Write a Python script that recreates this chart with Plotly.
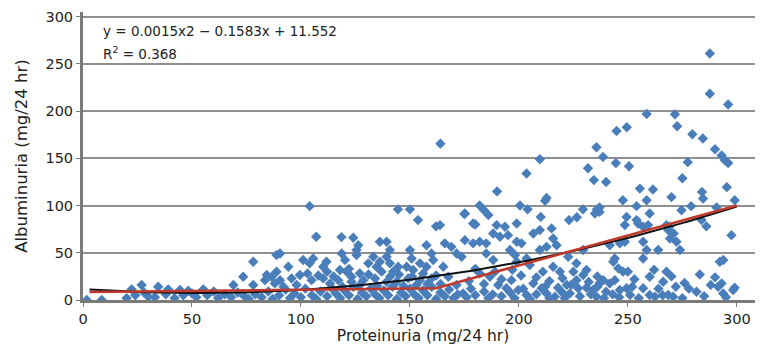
import numpy as np
import plotly.graph_objects as go

# ---- scatter data (Proteinuria, Albuminuria) ----
pts = [
    # upper / sparse
    (287.6,261),(287.6,218.5),(296,207),(258.6,197),(271.6,196.6),(272.6,184),(244.8,179),(249.5,183),
    (279.6,175.5),(284.4,171),(290,159.6),(235.6,161.7),(238.6,151.5),(209.6,149),(203.5,134),(244.5,145),
    (250.5,141.6),(277.5,146),(294.5,148),(293,153),(296,145),(231.7,139.5),(234.4,127),(240,125),(275,129),
    (255.5,118),(261.5,117),(295.4,119.5),(284,114.5),(212.7,108),(270,109),(164,165.6),(190,115),(104,99.4),
    (107,67),(118.6,66.6),(124,66),
    (144.5,96),(150,96),(153.7,84.6),(162,78),(175,91),(182,100),(184,95),(186,90),(180,80),(200.5,100),
    (204,96),(210,88),(199,81),(223,84.6),(226.6,87.7),(229.4,96),(235.8,96),(237,98),(284.5,107.5),
    (299,105.7),(274.6,95),(279,99.4),(290.7,98),(283.8,84.6),(286,78),(297.5,68.7),(269,77.5),(271,70.5),
    (247.7,105.7),(254,99.4),(258.6,105.7),(249.4,88),(254,84.6),(257,77.5),(260,91.6),
    # 237-300 mid / low
    (237,93.3),(248.6,79.3),(254.7,81),(259.3,79.3),(268.5,74),(269.3,65.2),(272.3,61.7),(273.9,52.9),
    (267.7,79.3),(241.7,58),(246.3,60),(248.6,61.7),(257,61.7),(258.6,52.9),(257,44),(263.9,52.9),
    (243.3,40.5),(245.6,33.5),(247.8,30),(244,44),(267.7,30),(266.2,19.3),(260,24.6),(292.2,40.5),
    (293.8,42.3),(238.7,21),(241.7,17.6),(244,21),(246.3,10.6),(249.4,12.4),(251,5.3),(257,12.4),
    (260,5.3),(262.4,3.5),(268.5,5.3),(270.8,3.5),(281.5,8.8),(291.4,14),(293,17.6),(293.7,7),
    (298.3,10.6),(237,17.6),(240,8.8),
    # 164-237
    (175.2,91.6),(179,81),(212,105),(234.9,91.6),(189.8,79.3),(193.6,77.5),(163.8,79.3),(166,60),(169,56.3),
    (171.4,49.3),(173.7,45.8),(175.2,63.4),(179,60),(182,61.7),(185,60),(188.2,70.5),(191.3,67),(195,68.7),
    (199,61.7),(201.2,60),(206.6,70.5),(209.6,74),(215,75.8),(215.7,65.2),(217.3,58),(209.6,52.9),
    (212.7,56.3),(185,49.3),(188.2,42.3),(195.9,52.9),(198.2,47.6),(199,40.5),(203.5,44),(205,37),
    (222.6,45.8),(226.4,38.8),(229.5,52.9),(215.7,35.2),(218.8,30),(226.4,21),(229.5,26.4),(231,31.7),
    (234,10.6),(235.6,3.5),(165.3,35.2),(167.6,24.6),(171.4,15.9),(174.4,7),(182,28.2),(186.7,24.6),
    (190.5,15.9),(194.3,12.4),(196.6,21),(199.7,10.6),(203.5,5.3),(206.6,17.6),(210.4,12.4),(212.7,7),
    (216.5,3.5),(219.6,8.8),(223.4,7),(227.2,12.4),
    # 90-164
    (126.3,58),(136.2,61.7),(139.3,61.7),(140.8,52.9),(150,52.9),(150.8,44),(157.6,58),(159.9,49.3),
    (90.4,49.3),(94.2,35.2),(101,42.3),(104,38.8),(105.6,44),(111.7,40.5),(110.2,35.2),(118.7,49.3),
    (120.2,42.3),(125.5,52.9),(125.5,47.6),(117.9,31.7),(121,30),(123.2,24.6),(127,28.2),(130.9,38.8),
    (133.2,45.8),(136.2,40.5),(134.7,35.2),(139.3,45.8),(140.8,38.8),(144.6,35.2),(142.3,30),(148.5,35.2),
    (151.5,31.7),(154.6,38.8),(157.6,35.2),(160.7,42.3),(90.4,21),(95.7,22.9),(99.5,26.4),(104.9,21),
    (110.2,22.9),(113.3,17.6),(117.1,21),(123.2,19.3),(128.6,21),(134,22.9),(139.3,19.3),(143.9,19.3),
    (149.2,22.9),(154.6,21),(159.9,22.9),
    # 0-92
    (1.7,0),(8.6,0),(22.3,11.3),(26.9,15.9),(30,3.5),(34.5,14),(39.1,11.3),(44.5,10.6),(48.3,9.9),
    (55.2,11.3),(69,15.9),(73.5,24.6),(78.1,40.5),(78.1,15.9),(83.5,21),(86.6,24.6),(88.8,47.6),(88,17.6),
    (88.8,30),(84.3,26.4),
    # dense bottom band
    (20,2),(24,5),(28,8),(33,3),(38,6),(42,2),(46,5),(50,7),(52,3),(57,5),(60,9),(62,2),(65,6),(68,3),
    (71,8),(74,4),(76,1),(79,6),(82,3),(85,9),(87,1),(90,5),(93,11),(95,2),
    (97,7),(100,3),(102,12),(105,5),(107,1),(109,9),(112,4),(114,13),(116,7),(118,2),(120,10),(122,5),
    (124,14),(126,1),(128,8),(130,4),(132,12),(134,6),(136,2),(138,10),(140,5),(142,14),(144,1),(146,8),
    (148,4),(150,12),(152,6),(154,2),(156,10),(158,5),(160,14),(162,1),(164,8),(166,4),
    (168,11),(170,2),(172,6),(176,3),(178,12),(180,5),(184,9),(186,2),(188,6),(192,4),(196,8),(198,2),
    (202,12),(205,1),(208,6),(212,14),(214,2),(218,13),(221,2),(224,16),(228,4),(231,13),(233,6),(236,14),
    (239,2),(243,6),(246,3),(252,14),(255,2),(264,12),(266,5),(272,14),(275,2),(278,12),(285,4),(288,16),
    (295,3),(299,13),
    (92,14),(98,16),(103,28),(108,26),(112,30),(115,25),(119,14),(122,33),(127,16),(131,27),(135,15),
    (137,30),(141,25),(145,27),(147,15),(151,25),(153,16),(156,28),(158,17),(162,26),(164,17),
    (177,20),(180,33),(184,17),(189,30),(192,22),(197,32),(201,26),(208,24),(211,30),(214,20),(220,23),
    (222,16),(225,30),(232,19),(236,25),(250,30),(253,22),(262,32),(270,25),(276,18),(283,27),(290,24),
]
protein = [p[0] for p in pts]
albumin = [p[1] for p in pts]

# trendline coefficients shown on the chart
a2, a1, a0 = 0.0015, -0.1583, 11.552
fit_start, fit_end = 3, 300

# red line vertices
red_x = [3, 162, 300]
red_y = [8.5, 12.5, 100]

x_ticks = [0, 50, 100, 150, 200, 250, 300]
y_ticks = [0, 50, 100, 150, 200, 250, 300]

fx = np.linspace(fit_start, fit_end, 200)
fy = a2 * fx**2 + a1 * fx + a0

fig = go.Figure()
fig.add_trace(go.Scatter(x=protein, y=albumin, mode="markers",
                         marker=dict(symbol="diamond", size=8, color="#4a7ebb",
                                     line=dict(width=0)),
                         showlegend=False, hoverinfo="skip"))
fig.add_trace(go.Scatter(x=fx, y=fy, mode="lines", line=dict(color="#111111", width=2),
                         showlegend=False, hoverinfo="skip"))
fig.add_trace(go.Scatter(x=red_x, y=red_y, mode="lines", line=dict(color="#c0392b", width=2.5),
                         showlegend=False, hoverinfo="skip"))

font = "DejaVu Sans, Verdana, sans-serif"
# page body has an 8px margin, so the figure is sized/offset to compensate
fig.update_layout(
    width=755, height=340,
    margin=dict(l=75, r=0, t=4, b=48),
    paper_bgcolor="white", plot_bgcolor="white",
    font=dict(family=font, size=14.5, color="#222"),
    xaxis=dict(range=[0, 312], tickvals=x_ticks, showgrid=False, zeroline=False,
               showline=True, linecolor="#7a7a7a", linewidth=3,
               ticks="outside", ticklen=4, tickcolor="#7a7a7a",
               title=dict(text="Proteinuria (mg/24 hr)", standoff=4, font=dict(size=15.5))),
    yaxis=dict(range=[0, 305], tickvals=y_ticks, showgrid=True, gridcolor="#8f8f8f", gridwidth=2,
               zeroline=False, showline=True, linecolor="#7a7a7a", linewidth=3,
               ticks="outside", ticklen=4, tickcolor="#7a7a7a", ticklabeloverflow="allow",
               title=dict(text="Albuminuria (mg/24 hr)", standoff=14, font=dict(size=16.5))),
    annotations=[
        dict(xref="paper", yref="paper", x=0.027, y=0.935, xanchor="left", yanchor="middle",
             text="y = 0.0015x2 − 0.1583x + 11.552", showarrow=False, font=dict(size=13.5)),
        dict(xref="paper", yref="paper", x=0.027, y=0.858, xanchor="left", yanchor="middle",
             text="R<sup>2</sup> = 0.368", showarrow=False, font=dict(size=13.5)),
    ],
)
fig.write_html("out.html")
